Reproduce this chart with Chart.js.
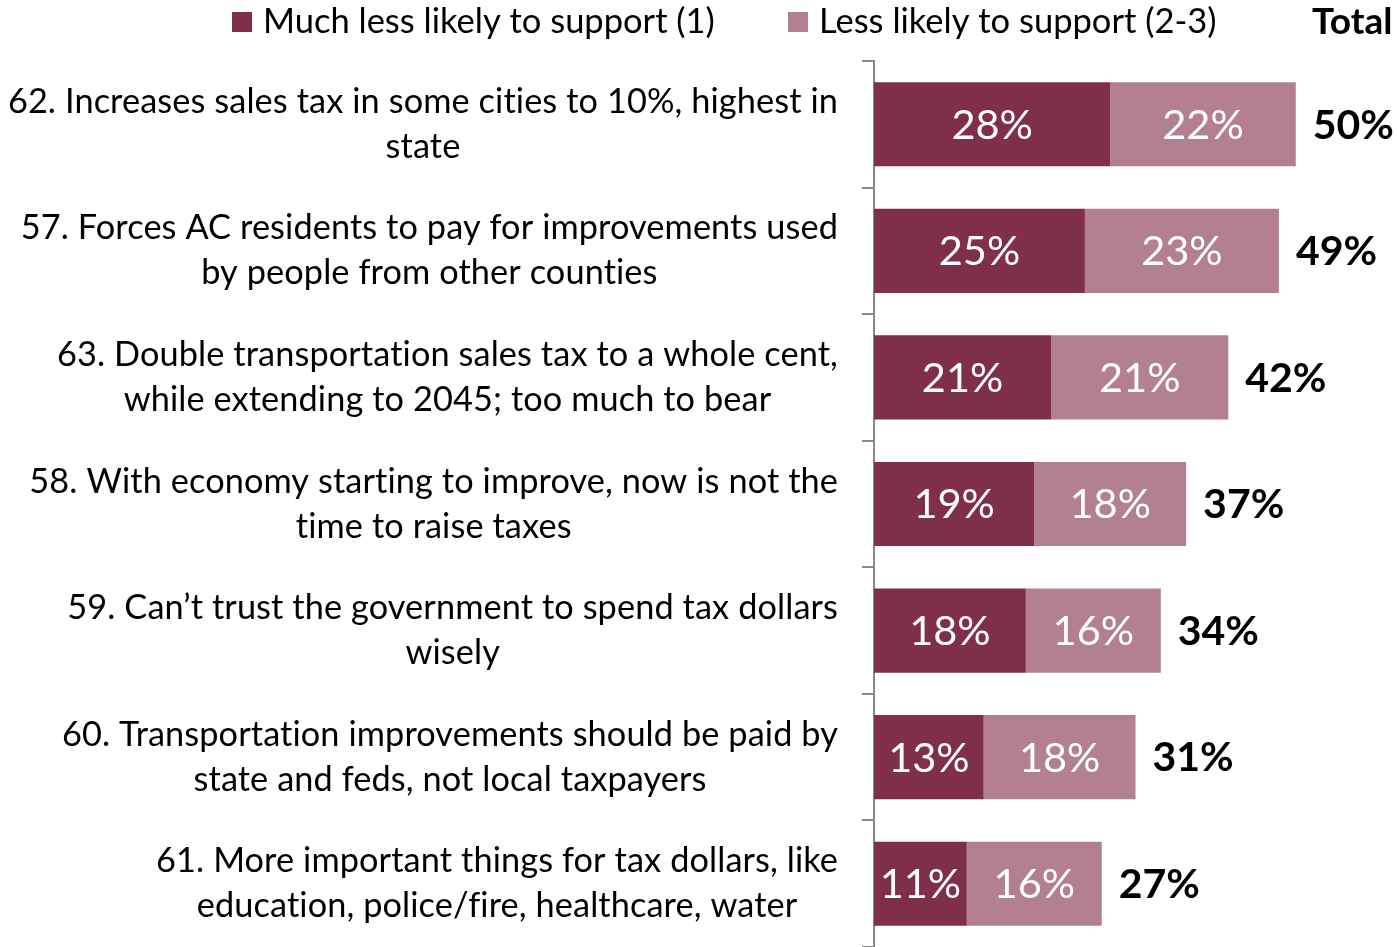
<!DOCTYPE html>
<html>
<head>
<meta charset="utf-8">
<script src="https://cdn.jsdelivr.net/npm/chart.js@4.4.1/dist/chart.umd.min.js"></script>
<style>
  body { margin: 0; background: #fff; }
  #wrap { width: 1397px; height: 947px; }
</style>
</head>
<body>
<div id="wrap"><canvas id="chart"></canvas></div>
<script>
const categories = [
	["62. Increases sales tax in some cities to 10%, highest in", "state"],
	["57. Forces AC residents to pay for improvements used", "by people from other counties"],
	["63. Double transportation sales tax to a whole cent,", "while extending to 2045; too much to bear"],
	["58. With economy starting to improve, now is not the", "time to raise taxes"],
	["59. Can\u2019t trust the government to spend tax dollars", "wisely"],
	["60. Transportation improvements should be paid by", "state and feds, not local taxpayers"],
	["61. More important things for tax dollars, like", "education, police/fire, healthcare, water"],
];
const muchLess = [28, 25, 21, 19, 18, 13, 11];
const lessLikely = [22, 23, 21, 18, 16, 18, 16];
const totals = [50, 49, 42, 37, 34, 31, 27];
const seriesNames = ["Much less likely to support (1)", "Less likely to support (2-3)"];
const totalTitle = "Total";

const FONT = "Lato";
const DARK = "#7f2f4c";
const LIGHT = "#b2808f";

// question text to the left of the axis, each block centred and right edge on x=838
const questionLabels = {
	id: "questionLabels",
	afterDraw(chart) {
		const ctx = chart.ctx;
		const y = chart.scales.y;
		ctx.save();
		ctx.font = "34.3px " + FONT;
		ctx.letterSpacing = "0.1px"; // keeps "ti" from turning into a ligature
		ctx.fillStyle = "#000";
		ctx.textAlign = "center";
		ctx.textBaseline = "middle";
		categories.forEach((lines, i) => {
			const w = Math.max(...lines.map((l) => ctx.measureText(l).width));
			const cx = 838 - w / 2;
			const cy = y.getPixelForValue(i);
			lines.forEach((l, j) => {
				ctx.fillText(l, cx, cy + (j - (lines.length - 1) / 2) * 45);
			});
		});
		ctx.restore();
	},
};

// percentages inside segments + bold totals after the bars
const valueLabels = {
	id: "valueLabels",
	afterDatasetsDraw(chart) {
		const ctx = chart.ctx;
		ctx.save();
		ctx.textBaseline = "middle";
		chart.data.datasets.forEach((ds, d) => {
			const meta = chart.getDatasetMeta(d);
			meta.data.forEach((bar, i) => {
				ctx.font = "41.5px " + FONT;
				ctx.fillStyle = "#fff";
				ctx.textAlign = "center";
				ctx.fillText(ds.data[i] + "%", (bar.base + bar.x) / 2, bar.y + 1);
				if (d === chart.data.datasets.length - 1) {
					ctx.font = "bold 41px " + FONT;
					ctx.fillStyle = "#000";
					ctx.textAlign = "left";
					ctx.fillText(totals[i] + "%", bar.x + 17, bar.y + 1);
				}
			});
		});
		ctx.restore();
	},
};

// legend row along the top
const topLegend = {
	id: "topLegend",
	afterDraw(chart) {
		const ctx = chart.ctx;
		const xs = [232, 788];
		ctx.save();
		ctx.textBaseline = "middle";
		ctx.textAlign = "left";
		chart.data.datasets.forEach((ds, d) => {
			ctx.fillStyle = ds.backgroundColor;
			ctx.fillRect(xs[d], 12, 20, 20);
			ctx.fillStyle = "#000";
			ctx.font = "34.5px " + FONT;
			ctx.fillText(ds.label, xs[d] + 31, 22);
		});
		ctx.font = "bold 37px " + FONT;
		ctx.fillText(totalTitle, 1312, 22);
		ctx.restore();
	},
};

new Chart(document.getElementById("chart"), {
	type: "bar",
	data: {
		labels: categories,
		datasets: [
			{ label: seriesNames[0], data: muchLess, backgroundColor: DARK },
			{ label: seriesNames[1], data: lessLikely, backgroundColor: LIGHT },
		],
	},
	options: {
		indexAxis: "y",
		responsive: true,
		maintainAspectRatio: false,
		animation: false,
		layout: { padding: { top: 61, left: 0, right: 0, bottom: 0 } },
		datasets: { bar: { categoryPercentage: 1, barPercentage: 0.665 } },
		plugins: {
			legend: { display: false },
			tooltip: { enabled: false },
		},
		scales: {
			x: { stacked: true, display: false, min: 0, max: 62 },
			y: {
				stacked: true,
				afterFit(scale) {
					scale.width = 874;
				},
				ticks: { display: false },
				grid: {
					offset: true,
					drawOnChartArea: false,
					tickLength: 12,
					color: "#898989",
					lineWidth: 2,
				},
				border: { color: "#898989", width: 2 },
			},
		},
	},
	plugins: [questionLabels, valueLabels, topLegend],
});
</script>
</body>
</html>
